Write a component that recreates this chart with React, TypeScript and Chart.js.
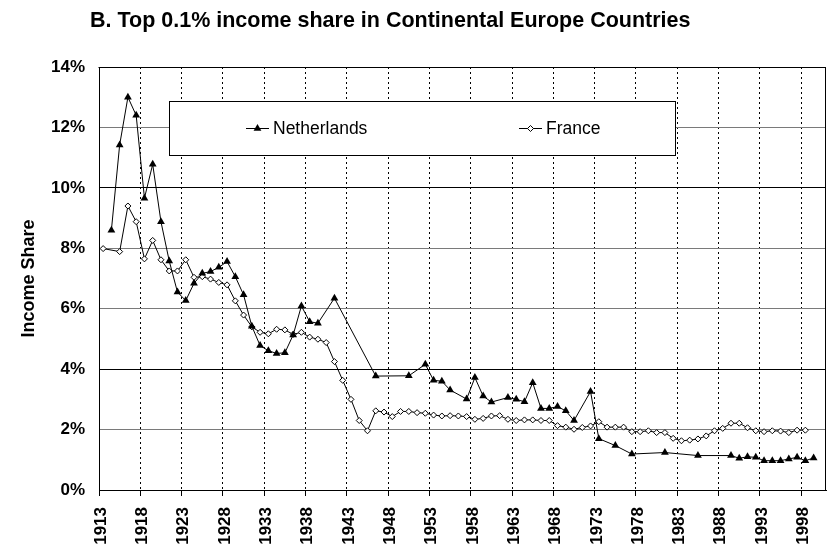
import { useEffect, useRef } from 'react';
import { Chart, registerables } from 'chart.js';

Chart.register(...registerables);

const FONT = '"Liberation Sans", Arial, Helvetica, sans-serif';
const TITLE = 'B. Top 0.1% income share in Continental Europe Countries';
const Y_TITLE = 'Income Share';

const CATEGORIES = [
  '1913','1914','1915','1916','1917','1918','1919','1920','1921','1922',
  '1923','1924','1925','1926','1927','1928','1929','1930','1931','1932',
  '1933','1934','1935','1936','1937','1938','1939','1940','1941','1942',
  '1943','1944','1945','1946','1947','1948','1949','1950','1951','1952',
  '1953','1954','1955','1956','1957','1958','1959','1960','1961','1962',
  '1963','1964','1965','1966','1967','1968','1969','1970','1971','1972',
  '1973','1974','1975','1976','1977','1978','1979','1980','1981','1982',
  '1983','1984','1985','1986','1987','1988','1989','1990','1991','1992',
  '1993','1994','1995','1996','1997','1998','1999','2000',
];

const TICK_LABELS = [
  '1913','1918','1923','1928','1933','1938','1943','1948','1953',
  '1958','1963','1968','1973','1978','1983','1988','1993','1998',
];

const Y_TICKS = [0, 2, 4, 6, 8, 10, 12, 14];

const NL_YEARS = [
  1914,1915,1916,1917,1918,1919,1920,1921,1922,1923,1924,1925,1926,1927,1928,
  1929,1930,1931,1932,1933,1934,1935,1936,1937,1938,1939,1941,1946,1950,1952,
  1953,1954,1955,1957,1958,1959,1960,1962,1963,1964,1965,1966,1967,1968,1969,
  1970,1972,1973,1975,1977,1981,1985,1989,1990,1991,1992,1993,1994,1995,1996,
  1997,1998,1999,
];
const NL_VALUES = [
  8.6,11.42,13.0,12.4,9.66,10.78,8.88,7.58,6.55,6.27,6.84,7.17,7.23,7.37,7.56,
  7.06,6.46,5.42,4.78,4.61,4.52,4.54,5.13,6.09,5.57,5.52,6.35,3.77,3.78,4.16,
  3.63,3.6,3.31,3.01,3.72,3.11,2.91,3.06,3.0,2.92,3.55,2.7,2.7,2.76,2.62,
  2.3,3.26,1.7,1.47,1.19,1.24,1.14,1.14,1.05,1.1,1.08,0.97,0.97,0.97,1.03,
  1.08,0.97,1.06,
];

const FR_YEARS = [
  1913,1915,1916,1917,1918,1919,1920,1921,1922,1923,1924,1925,1926,1927,1928,
  1929,1930,1931,1932,1933,1934,1935,1936,1937,1938,1939,1940,1941,1942,1943,
  1944,1945,1946,1947,1948,1949,1950,1951,1952,1953,1954,1955,1956,1957,1958,
  1959,1960,1961,1962,1963,1964,1965,1966,1967,1968,1969,1970,1971,1972,1973,
  1974,1975,1976,1977,1978,1979,1980,1981,1982,1983,1984,1985,1986,1987,1988,
  1989,1990,1991,1992,1993,1994,1995,1996,1997,1998,
];
const FR_VALUES = [
  7.99,7.89,9.4,8.88,7.65,8.26,7.62,7.25,7.25,7.62,7.04,7.06,6.98,6.87,6.79,
  6.26,5.79,5.4,5.22,5.17,5.32,5.3,5.15,5.22,5.06,4.99,4.88,4.25,3.63,3.0,
  2.3,1.96,2.62,2.58,2.43,2.6,2.6,2.56,2.54,2.48,2.45,2.46,2.45,2.43,2.34,
  2.37,2.45,2.46,2.34,2.3,2.32,2.32,2.3,2.3,2.13,2.08,2.01,2.07,2.12,2.26,
  2.08,2.08,2.08,1.93,1.93,1.96,1.9,1.9,1.71,1.63,1.65,1.69,1.79,1.96,2.04,
  2.21,2.21,2.06,1.96,1.93,1.96,1.95,1.9,1.98,1.98,
];

const SERIES_NAMES = ['Netherlands', 'France'];

function drawMarker(ctx: CanvasRenderingContext2D, style: string, x: number, y: number) {
  ctx.beginPath();
  if (style === 'triangle') {
    const r = 4.5;
    ctx.moveTo(x, y - r);
    ctx.lineTo(x + r * 0.866, y + r / 2);
    ctx.lineTo(x - r * 0.866, y + r / 2);
    ctx.closePath();
    ctx.fillStyle = '#000';
    ctx.fill();
  } else {
    const r = 3;
    ctx.moveTo(x - r, y);
    ctx.lineTo(x, y - r);
    ctx.lineTo(x + r, y);
    ctx.lineTo(x, y + r);
    ctx.closePath();
    ctx.fillStyle = '#fff';
    ctx.fill();
    ctx.strokeStyle = '#000';
    ctx.lineWidth = 1;
    ctx.stroke();
  }
}

const framePlugin = {
  id: 'frame',
  beforeDatasetsDraw(chart: any) {
    const { ctx, chartArea } = chart;
    ctx.save();
    ctx.strokeStyle = '#000';
    ctx.lineWidth = 1;
    const t = Math.round(chartArea.top) + 0.5;
    const r = Math.round(chartArea.right) - 0.5;
    const b = Math.round(chartArea.bottom) + 0.5;
    ctx.beginPath();
    ctx.moveTo(Math.round(chartArea.left) - 0.5, t);
    ctx.lineTo(r, t);
    ctx.lineTo(r, b);
    ctx.stroke();
    ctx.restore();
  },
};

const legendPlugin = {
  id: 'boxLegend',
  afterDatasetsDraw(chart: any) {
    const ctx: CanvasRenderingContext2D = chart.ctx;
    ctx.save();
    ctx.fillStyle = '#fff';
    ctx.fillRect(169.5, 101.5, 506, 54);
    ctx.strokeStyle = '#000';
    ctx.lineWidth = 1;
    ctx.strokeRect(169.5, 101.5, 506, 54);
    const cy = 128.5;
    const items = [
      { x: 246, style: 'triangle' },
      { x: 519, style: 'rectRot' },
    ];
    chart.data.datasets.forEach((ds: any, i: number) => {
      const it = items[i];
      ctx.beginPath();
      ctx.strokeStyle = '#000';
      ctx.lineWidth = 1;
      ctx.moveTo(it.x, cy);
      ctx.lineTo(it.x + 23, cy);
      ctx.stroke();
      drawMarker(ctx, it.style, it.x + 11.5, cy);
      ctx.fillStyle = '#000';
      ctx.font = `17.5px ${FONT}`;
      ctx.textAlign = 'left';
      ctx.textBaseline = 'middle';
      ctx.fillText(ds.label, it.x + 27, cy + 1);
    });
    ctx.restore();
  },
};

const titlePlugin = {
  id: 'leftTitle',
  afterDraw(chart: any) {
    const ctx: CanvasRenderingContext2D = chart.ctx;
    ctx.save();
    ctx.fillStyle = '#000';
    ctx.font = `bold 21.5px ${FONT}`;
    ctx.textAlign = 'left';
    ctx.textBaseline = 'alphabetic';
    ctx.fillText(TITLE, 90, 26.5);
    ctx.restore();
  },
};

export default function App() {
  const canvasRef = useRef<HTMLCanvasElement | null>(null);

  useEffect(() => {
    const canvas = canvasRef.current;
    if (!canvas) return;

    const nlData = NL_YEARS.map((yr, i) => ({ x: String(yr), y: NL_VALUES[i] }));
    const frData = FR_YEARS.map((yr, i) => ({ x: String(yr), y: FR_VALUES[i] }));

    const chart = new Chart(canvas, {
      type: 'line',
      data: {
        labels: CATEGORIES,
        datasets: [
          {
            label: SERIES_NAMES[0],
            data: nlData as any,
            borderColor: '#000',
            borderWidth: 1,
            backgroundColor: '#000',
            pointStyle: 'triangle',
            pointRadius: 4.5,
            pointBorderWidth: 0,
            pointBackgroundColor: '#000',
            pointBorderColor: '#000',
            tension: 0,
            spanGaps: true,
          },
          {
            label: SERIES_NAMES[1],
            data: frData as any,
            borderColor: '#000',
            borderWidth: 1,
            backgroundColor: '#fff',
            pointStyle: 'rectRot',
            pointRadius: 3,
            pointBorderWidth: 1,
            pointBackgroundColor: '#fff',
            pointBorderColor: '#000',
            tension: 0,
            spanGaps: true,
          },
        ],
      },
      options: {
        animation: false,
        responsive: false,
        devicePixelRatio: 1,
        layout: { padding: { top: 67, right: 3, bottom: 0, left: 0 } },
        plugins: {
          legend: { display: false },
          title: { display: false },
          tooltip: { enabled: false },
        },
        scales: {
          x: {
            type: 'category',
            offset: true,
            grid: {
              offset: true,
              color: (c: any) => (c.index % 5 === 0 ? '#000' : 'rgba(0,0,0,0)'),
              tickColor: (c: any) => (c.index % 5 === 0 ? '#000' : 'rgba(0,0,0,0)'),
              tickLength: 6,
              lineWidth: 1,
            },
            border: { color: '#000', width: 1, dash: [2, 3] },
            ticks: {
              autoSkip: false,
              minRotation: 90,
              maxRotation: 90,
              padding: 11,
              labelOffset: -2,
              color: '#000',
              font: { family: FONT, size: 17, weight: 'bold' },
              callback: (_v: any, i: number) =>
                TICK_LABELS.includes(CATEGORIES[i]) ? CATEGORIES[i] : '',
            },
            afterFit: (s: any) => {
              s.height = 59;
              s.paddingLeft = 0;
              s.paddingRight = 0;
            },
          } as any,
          y: {
            min: 0,
            max: 14,
            afterBuildTicks: (s: any) => {
              s.ticks = Y_TICKS.map((v) => ({ value: v }));
            },
            grid: {
              drawTicks: false,
              lineWidth: 1,
              color: (c: any) => {
                const v = c.tick ? c.tick.value : 0;
                return v === 4 || v === 10 || v === 14 || v === 0 ? '#000' : '#7a7a7a';
              },
            },
            border: { color: '#000', width: 1 },
            ticks: {
              padding: 14,
              color: '#000',
              font: { family: FONT, size: 17, weight: 'bold' },
              callback: (v: any) => `${v}%`,
            },
            title: {
              display: true,
              text: Y_TITLE,
              color: '#000',
              font: { family: FONT, size: 18, weight: 'bold' },
              padding: { top: 18, bottom: 0 },
            },
            afterFit: (s: any) => {
              s.width = 99;
              s.paddingTop = 0;
              s.paddingBottom = 0;
            },
          } as any,
        },
      },
      plugins: [framePlugin, legendPlugin, titlePlugin],
    });

    return () => chart.destroy();
  }, []);

  return (
    <div style={{ position: 'absolute', left: 0, top: 0, width: 831, height: 549, background: '#fff' }}>
      <canvas ref={canvasRef} width={831} height={549} style={{ display: 'block' }} />
    </div>
  );
}
